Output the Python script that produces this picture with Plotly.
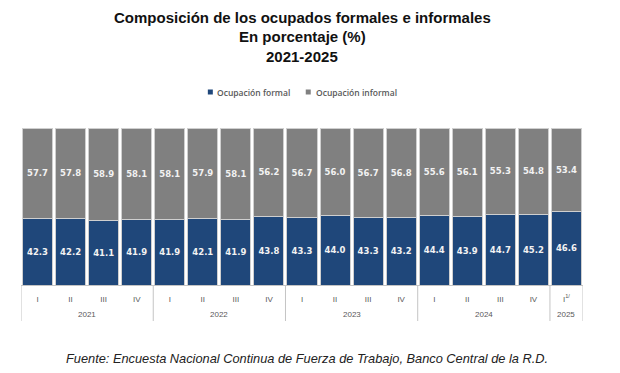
import plotly.graph_objects as go

quarters = ["I", "II", "III", "IV", "I", "II", "III", "IV", "I", "II", "III", "IV",
            "I", "II", "III", "IV", "I<sup>1/</sup>"]
years = ["2021", "2022", "2023", "2024", "2025"]
year_counts = [4, 4, 4, 4, 1]
formal = [42.3, 42.2, 41.1, 41.9, 41.9, 42.1, 41.9, 43.8, 43.3, 44.0, 43.3, 43.2,
          44.4, 43.9, 44.7, 45.2, 46.6]
informal = [57.7, 57.8, 58.9, 58.1, 58.1, 57.9, 58.1, 56.2, 56.7, 56.0, 56.7, 56.8,
            55.6, 56.1, 55.3, 54.8, 53.4]

BLUE = "#1F477A"
GRAY = "#808080"
OFF = 8  # page body margin
W, H = 620 - OFF, 373 - OFF
# plot area in page pixels: x 20.5..583, y 128..285
L, R, T, B = 20.5 - OFF, 620 - 583, 128 - OFF, 373 - 285
pw, ph = W - L - R, H - T - B

def px2x(px):
    return (px - OFF - L) / pw

def py2y(py):
    return (H - B - (py - OFF)) / ph

x = list(range(len(formal)))
fig = go.Figure()
for name, vals, col in [("Ocupación formal", formal, BLUE), ("Ocupación informal", informal, GRAY)]:
    fig.add_trace(go.Bar(
        x=x, y=vals, name=name,
        marker=dict(color=col, line=dict(color="#cfcfcf", width=1)),
        text=[f"{v:.1f}" for v in vals], textposition="inside",
        insidetextanchor="middle", constraintext="none",
        textfont=dict(family="DejaVu Sans", size=8.5, color="#f2f2f2", weight="bold"),
        showlegend=False, hoverinfo="skip",
    ))

shapes = []
annotations = []
bounds = [-0.5]
for c in year_counts:
    bounds.append(bounds[-1] + c)
for b in bounds:
    shapes.append(dict(type="line", xref="x", yref="paper", x0=b, x1=b,
                       y0=0, y1=py2y(321), line=dict(color="#c4c4c4", width=1)))
for i, yr in enumerate(years):
    annotations.append(dict(xref="x", yref="paper", x=(bounds[i] + bounds[i + 1]) / 2,
                            y=py2y(314), text=yr, showarrow=False,
                            font=dict(family="Liberation Sans", size=8, color="#595959"),
                            yanchor="middle"))

for txt, py in [("Composición de los ocupados formales e informales", 18),
                ("En porcentaje (%)", 37), ("2021-2025", 56)]:
    annotations.append(dict(xref="paper", yref="paper", x=px2x(302), y=py2y(py), text=f"<b>{txt}</b>",
                            showarrow=False, yanchor="middle",
                            font=dict(family="Liberation Sans", size=15, color="#111111")))

for sx, tx, txt, col in [(207.5, 215, "Ocupación formal", BLUE), (305.5, 314, "Ocupación informal", GRAY)]:
    shapes.append(dict(type="rect", xref="paper", yref="paper", x0=px2x(sx), x1=px2x(sx + 5),
                       y0=py2y(94.5), y1=py2y(89.5), fillcolor=col, line=dict(width=0)))
    annotations.append(dict(xref="paper", yref="paper", x=px2x(tx), y=py2y(92), text=txt,
                            showarrow=False, xanchor="left", yanchor="middle",
                            font=dict(family="Open Sans", size=8.5, color="#595959", weight=600)))

annotations.append(dict(xref="paper", yref="paper", x=px2x(307), y=py2y(358),
                        text="<i>Fuente: Encuesta Nacional Continua de Fuerza de Trabajo, Banco Central de la R.D.</i>",
                        showarrow=False, yanchor="middle",
                        font=dict(family="Liberation Sans", size=12.8, color="#222222")))

fig.update_layout(
    width=W, height=H, barmode="stack", bargap=0.09,
    margin=dict(l=L, r=R, t=T, b=B, pad=0),
    paper_bgcolor="white", plot_bgcolor="white",
    shapes=shapes, annotations=annotations,
    xaxis=dict(range=[-0.5, len(formal) - 0.5], tickmode="array", tickvals=x, ticktext=quarters,
               showgrid=False, zeroline=False, showline=True, linecolor="#c4c4c4", linewidth=1,
               ticks="", ticklabelstandoff=6,
               tickfont=dict(family="Liberation Sans", size=8, color="#595959")),
    yaxis=dict(range=[0, 100], visible=False),
)
fig.write_html("out.html")
